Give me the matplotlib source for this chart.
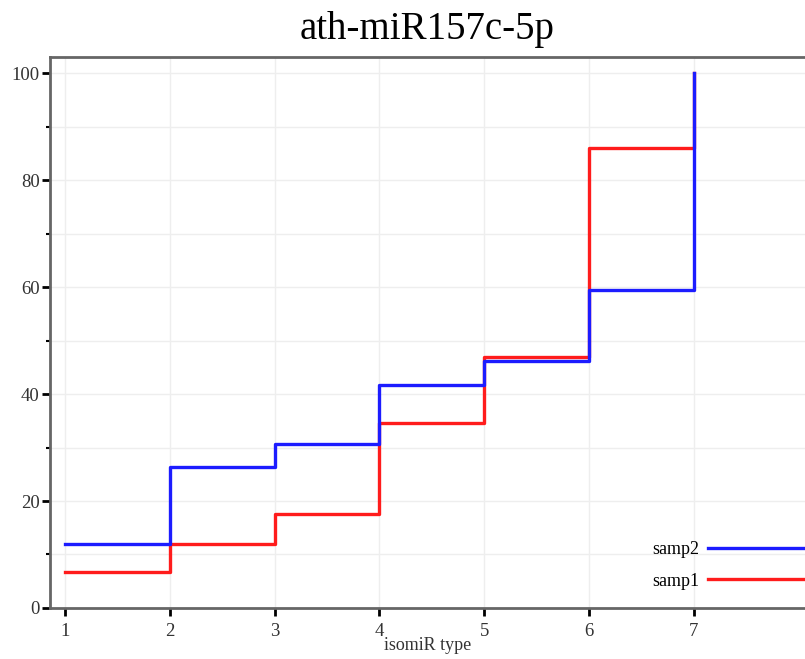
import matplotlib
matplotlib.use('Agg')
import matplotlib.pyplot as plt
import numpy as np

isomir_type = [1, 2, 3, 4, 5, 6, 7]
samp1 = [6.8, 11.9, 17.6, 34.5, 47.0, 85.9, 100]
samp2 = [12.0, 26.4, 30.7, 41.7, 46.2, 59.4, 100]

plt.rcParams['font.family'] = ['Liberation Serif', 'DejaVu Serif']

fig = plt.figure(figsize=(8.05, 6.59), dpi=100)
ax = fig.add_axes([0.0621, 0.0774, 0.9379, 0.8361])

ax.step(isomir_type, samp1, where='post', color='#ff1c1c', lw=2.4, label='samp1')
ax.step(isomir_type, samp2, where='post', color='#1c1cff', lw=2.4, label='samp2')

ax.set_xlim(0.857, 8.06)
ax.set_ylim(0, 103)
ax.set_xticks(np.arange(1, 8))
ax.set_yticks(np.arange(0, 101, 20))
ax.set_yticks(np.arange(10, 100, 20), minor=True)
ax.grid(True, which='both', axis='y', color='#eeeeee', lw=1.0)
ax.grid(True, which='major', axis='x', color='#eeeeee', lw=1.0)
ax.set_axisbelow(True)

for s in ['left', 'bottom', 'top']:
    ax.spines[s].set_color('#666666')
    ax.spines[s].set_linewidth(2)
ax.spines['right'].set_visible(False)

ax.tick_params(which='major', length=5.5, width=2, color='black', labelsize=13.5,
               labelcolor='#333333', pad=2)
ax.tick_params(axis='x', which='major', pad=5)
ax.tick_params(which='minor', length=3, width=1.5, color='black')

ax.set_title('ath-miR157c-5p', fontsize=28, pad=13)
ax.set_xlabel('isomiR type', fontsize=13, color='#333333', labelpad=-2)

handles, labels = ax.get_legend_handles_labels()
ax.legend(handles[::-1], labels[::-1], loc='lower right', bbox_to_anchor=(1.0, 0.033),
          frameon=False, markerfirst=False, fontsize=13, handlelength=5.4,
          handletextpad=0.45, labelspacing=0.8, borderpad=0, borderaxespad=0)

fig.savefig('out.png', dpi=100)
